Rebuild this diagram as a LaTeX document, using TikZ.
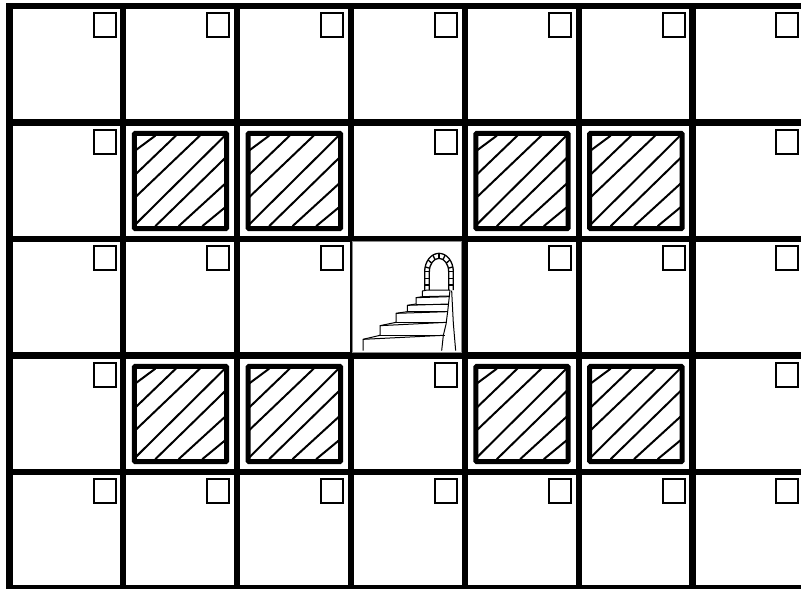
\documentclass[tikz,border=0pt]{standalone}
\usepackage{tikz}
\definecolor{gframe}{HTML}{8A8A8A}
\tikzset{
  ggrid/.style={black, line width=6.2pt},
  gwall/.style={black, fill=white, line width=5pt, rounded corners=1pt},
  ghatch/.style={black, line width=2pt},
  gbox/.style={draw=black, fill=white, line width=2pt},
  gstair/.style={black, line width=1pt, line join=round},
  garch/.style={black, line width=1.3pt, line join=round},
  gpanel/.style={draw=gframe, fill=white, line width=0.7pt},
}
\def\cw{113.83}
\def\ch{116.5}
\begin{document}
\begin{tikzpicture}[x=1pt,y=-1pt]

  \useasboundingbox (0,0) rectangle (801,589);
  \clip (0,0) rectangle (801,589);

  % grille
  \foreach \c in {0,...,7}
    \draw[ggrid] ({9.5+\c*\cw},3) -- ({9.5+\c*\cw},592);
  \foreach \r in {0,...,5}
    \draw[ggrid] (6.4,{6+\r*\ch}) -- (806,{6+\r*\ch});

  % cases a cocher
  \foreach \r in {0,2,4}
    \foreach \c in {0,...,6}
      \draw[gbox] ({9.5+\c*\cw+84},{6+\r*\ch+7.4}) rectangle ++(22,23.6);
  \foreach \r in {1,3}
    \foreach \c in {0,3,6}
      \draw[gbox] ({9.5+\c*\cw+84},{6+\r*\ch+7.4}) rectangle ++(22,23.6);

  % murs
  \foreach \r in {1,3}{
    \foreach \c in {1,2,4,5}{
      \begin{scope}[shift={({9.5+\c*\cw},{6+\r*\ch})}]
        \draw[gwall] (11,10.8) rectangle (103.4,106.2);
        \foreach \xa/\ya/\xb/\yb in {34/85.5/96/39.5, 34/158/159/38, 34/226/231/38,
                                     34/308/306/38, 96/311/306/106,
                                     166/311/306/183, 237/311/306/254}
          \draw[ghatch] ({\xa/3},{\ya/3}) -- ({\xb/3},{\yb/3});
      \end{scope}
    }
  }

  % case de sortie
  \draw[white, line width=2.2pt] (349,242) -- (349,352);
  \draw[gpanel] (352.8,241.8) rectangle (461,352);

  \begin{scope}[shift={(340,230)}, scale=1/3]
    % escalier
    \draw[gstair] (69,362) -- (69,328) -- (120,316) -- (120,287) -- (168,277)
      -- (168,250) -- (202,245) -- (202,226) -- (228,222) -- (228,203)
      -- (247,200) -- (247,183) -- (262,180) -- (330,180);
    \draw[gstair] (305,362) -- (310,316) -- (318,283) -- (323,245) -- (330,180);
    \draw[gstair] (335,182) -- (340,280) -- (347,362);
    \foreach \xa/\ya/\xb/\yb in {69/328/310/316, 120/316/315/316, 120/287/320/277,
                                 168/277/322/277, 168/250/323/245, 202/245/325/245,
                                 202/226/325/222, 228/222/327/222, 228/203/328/200,
                                 247/200/328/198}
      \draw[gstair] (\xa,\ya) -- (\xb,\yb);
    % arche
    \draw[garch] (254,180) -- (254,125) arc[start angle=180, end angle=360, x radius=43, y radius=55]
      -- (340,180);
    \draw[garch] (268,180) -- (268,125) arc[start angle=180, end angle=360, x radius=29, y radius=40]
      -- (326,180);
    \foreach \a in {15,40,...,165}
      \draw[garch] ({297+29*cos(\a)},{125-40*sin(\a)}) -- ({297+43*cos(\a)},{125-55*sin(\a)});
    \foreach \y in {125,145,165}{
      \draw[garch] (254,\y) -- (268,\y);
      \draw[garch] (326,\y) -- (340,\y);
    }
  \end{scope}

\end{tikzpicture}
\end{document}
